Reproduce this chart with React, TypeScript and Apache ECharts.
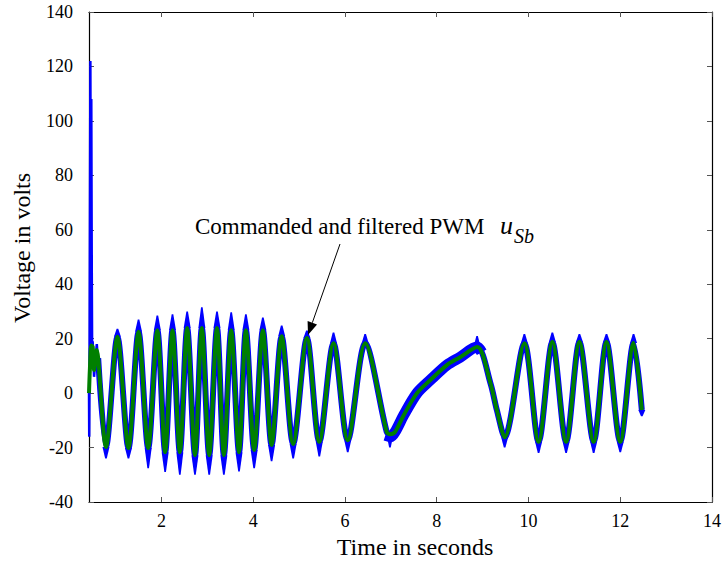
import React, { useEffect, useRef } from "react";
import * as echarts from "echarts";

// Time axis ticks (s) and voltage ticks (V)
const xTicks = [2, 4, 6, 8, 10, 12, 14];
const yMin = -40;
const yMax = 140;
const yStep = 20;
const xMin = 0.42;
const xMax = 14;

// Filtered PWM (green) — extrema [t, V]
const filteredPwm: [number, number][] = [
  [0.42, 0], [0.44, 9], [0.47, 17.5], [0.5, 17], [0.53, 8.5], [0.59, 15.8], [0.62, 12.8],
  [0.79, -19.8], [1.04, 20.7], [1.28, -20.2], [1.5, 22.5], [1.71, -20.2], [1.91, 23.1],
  [2.08, -21.7], [2.24, 23.1], [2.4, -21.7], [2.56, 23.9], [2.73, -22.8], [2.88, 23.9],
  [3.04, -22.8], [3.21, 23.9], [3.36, -22.8], [3.52, 23.1], [3.69, -21.7], [3.84, 23.1],
  [4.02, -20.9], [4.21, 23.1], [4.4, -19.1], [4.62, 20.9], [4.87, -18.7], [5.17, 20.2],
  [5.44, -17.9], [5.75, 18.3], [6.06, -17.3], [6.44, 18.3], [6.91, -14.3], [6.98, -15.1],
  [7.09, -14.3], [7.28, -8.1], [7.57, 0], [7.86, 4.8], [8.22, 10.3], [8.51, 13.2],
  [8.88, 16.9], [9.17, 3.7], [9.31, -6.2], [9.48, -16.2], [9.91, 18.3], [10.22, -17.9],
  [10.52, 18.8], [10.82, -17.9], [11.11, 18.8], [11.42, -17.9], [11.7, 18.8], [12.0, -17.9],
  [12.29, 18.4], [12.47, -6.2],
];

// Commanded PWM (blue) — start-up spike
const commandedSpike: [number, number][] = [
  [0.42, 0], [0.425, -16], [0.43, 2], [0.45, 122], [0.46, 46], [0.47, 108], [0.48, 47],
  [0.49, 10], [0.5, 19], [0.53, 6], [0.59, 18], [0.62, 11],
];

// Commanded PWM (blue) — noisy extremes reached at each filtered peak/trough [t, V]
const commandedExtremes: [number, number][] = [
  [0.79, -24], [1.04, 23.6], [1.28, -24], [1.5, 27], [1.71, -27.6], [1.91, 28.5],
  [2.08, -29], [2.24, 29], [2.4, -30], [2.56, 30], [2.73, -30], [2.88, 31.5], [3.04, -30],
  [3.21, 30], [3.36, -30], [3.52, 29.7], [3.69, -28.8], [3.84, 29], [4.02, -27.6],
  [4.21, 27.8], [4.4, -25], [4.62, 24.8], [4.87, -24], [5.17, 23], [5.44, -23.3],
  [5.75, 22.3], [6.06, -21.7], [6.44, 21.7], [6.98, -20], [8.88, 21],
  [9.48, -20], [9.91, 21.7], [10.22, -22], [10.52, 22.3], [10.82, -22],
  [11.11, 21.7], [11.42, -22], [11.7, 21.7], [12.0, -21.7], [12.29, 21.7], [12.47, -8.5],
];

// Commanded PWM (blue) — wide noisy band on the slow ramp
const commandedRamp: [number, number][] = [
  [6.88, -15.5], [7.0, -16], [7.1, -14], [7.28, -8.1], [7.57, 0], [7.86, 4.8],
  [8.22, 10.3], [8.51, 13.2], [8.88, 16.9], [8.98, 15],
];

const FONT = '"Liberation Serif", "Times New Roman", serif';

export default function App() {
  const ref = useRef<HTMLDivElement>(null);

  useEffect(() => {
    if (!ref.current) return;
    const chart = echarts.init(ref.current, undefined, { renderer: "svg" });

    const tickStyle = { color: "#555", width: 1 };
    const lineStyle = { color: "#000", width: 1.2 };

    // join blue extremes with the filtered value at the same instant
    const spikeData = commandedExtremes.map(([t, b]) => {
      const g = filteredPwm.find((p) => p[0] === t);
      return [t, g ? g[1] : b, b];
    });

    // arrow geometry (annotation)
    const tail = [340, 244];
    const tip = [308, 335];
    const dx = tip[0] - tail[0];
    const dy = tip[1] - tail[1];
    const len = Math.hypot(dx, dy);
    const ux = dx / len;
    const uy = dy / len;
    const headLen = 13;
    const headHalf = 5;
    const bx = tip[0] - ux * headLen;
    const by = tip[1] - uy * headLen;
    const px = -uy * headHalf;
    const py = ux * headHalf;

    chart.setOption({
      animation: false,
      backgroundColor: "#fff",
      grid: { left: 89, right: 11, top: 12, bottom: 59, outerBoundsMode: "none" },
      xAxis: [
        {
          type: "value",
          min: xMin,
          max: xMax,
          position: "bottom",
          axisLine: { show: true, onZero: false, lineStyle },
          axisTick: { show: true, inside: true, length: 5, customValues: xTicks, lineStyle: tickStyle },
          axisLabel: { customValues: xTicks, fontFamily: FONT, fontSize: 18, color: "#000", margin: 10 },
          splitLine: { show: false },
        },
        {
          type: "value",
          min: xMin,
          max: xMax,
          position: "top",
          axisLine: { show: true, onZero: false, lineStyle },
          axisTick: { show: true, inside: true, length: 5, customValues: xTicks, lineStyle: tickStyle },
          axisLabel: { show: false },
          splitLine: { show: false },
        },
      ],
      yAxis: [
        {
          type: "value",
          min: yMin,
          max: yMax,
          interval: yStep,
          position: "left",
          axisLine: { show: true, onZero: false, lineStyle },
          axisTick: { show: true, inside: true, length: 5, lineStyle: tickStyle },
          axisLabel: { fontFamily: FONT, fontSize: 18, color: "#000", margin: 16 },
          splitLine: { show: false },
        },
        {
          type: "value",
          min: yMin,
          max: yMax,
          interval: yStep,
          position: "right",
          axisLine: { show: true, onZero: false, lineStyle },
          axisTick: { show: true, inside: true, length: 5, lineStyle: tickStyle },
          axisLabel: { show: false },
          splitLine: { show: false },
        },
      ],
      series: [
        {
          name: "Commanded ramp",
          type: "line",
          data: commandedRamp,
          smooth: 0.3,
          showSymbol: false,
          lineStyle: { color: "#0000ff", width: 11 },
          z: 1,
        },
        {
          name: "Commanded PWM",
          type: "line",
          data: filteredPwm.slice(6),
          smooth: 0.3,
          showSymbol: false,
          lineStyle: { color: "#0000ff", width: 6 },
          z: 1,
        },
        {
          name: "Commanded spikes",
          type: "custom",
          data: spikeData,
          encode: { x: 0, y: [1, 2] },
          renderItem: (_params: any, api: any) => {
            const t = api.value(0);
            const g = api.value(1);
            const b = api.value(2);
            const p0 = api.coord([t, g]);
            const p1 = api.coord([t, b]);
            return {
              type: "polygon",
              shape: {
                points: [
                  [p0[0] - 3.5, p0[1]],
                  [p0[0] + 3.5, p0[1]],
                  [p1[0] + 0.8, p1[1]],
                  [p1[0] - 0.8, p1[1]],
                ],
              },
              style: { fill: "#0000ff" },
            };
          },
          z: 2,
        },
        {
          name: "Commanded spike",
          type: "line",
          data: commandedSpike,
          showSymbol: false,
          lineStyle: { color: "#0000ff", width: 2.5 },
          z: 2,
        },
        {
          name: "Filtered PWM",
          type: "line",
          data: filteredPwm,
          smooth: 0.3,
          showSymbol: false,
          lineStyle: { color: "#008000", width: 4 },
          z: 3,
        },
      ],
      graphic: [
        {
          type: "text",
          x: 22,
          y: 248,
          rotation: Math.PI / 2,
          style: {
            text: "Voltage in volts",
            fontFamily: FONT,
            fontSize: 24,
            fill: "#000",
            align: "center",
            verticalAlign: "middle",
          },
        },
        {
          type: "text",
          x: 415,
          y: 547,
          style: {
            text: "Time in seconds",
            fontFamily: FONT,
            fontSize: 24,
            fill: "#000",
            align: "center",
            verticalAlign: "middle",
          },
        },
        {
          type: "text",
          x: 195,
          y: 226,
          style: {
            text: "Commanded and filtered PWM",
            fontFamily: FONT,
            fontSize: 23,
            fill: "#000",
            align: "left",
            verticalAlign: "middle",
          },
        },
        {
          type: "text",
          x: 500,
          y: 225,
          style: {
            text: "u",
            fontFamily: FONT,
            fontSize: 26,
            fontStyle: "italic",
            fill: "#000",
            align: "left",
            verticalAlign: "middle",
          },
        },
        {
          type: "text",
          x: 514,
          y: 236,
          style: {
            text: "Sb",
            fontFamily: FONT,
            fontSize: 20,
            fontStyle: "italic",
            fill: "#000",
            align: "left",
            verticalAlign: "middle",
          },
        },
        {
          type: "line",
          shape: { x1: tail[0], y1: tail[1], x2: bx, y2: by },
          style: { stroke: "#000", lineWidth: 1 },
          z: 10,
        },
        {
          type: "polygon",
          shape: {
            points: [
              [tip[0], tip[1]],
              [bx + px, by + py],
              [bx - px, by - py],
            ],
          },
          style: { fill: "#000" },
          z: 10,
        },
      ],
    });

    return () => chart.dispose();
  }, []);

  return (
    <div
      ref={ref}
      style={{ position: "absolute", left: 0, top: 0, width: 723, height: 561 }}
    />
  );
}
